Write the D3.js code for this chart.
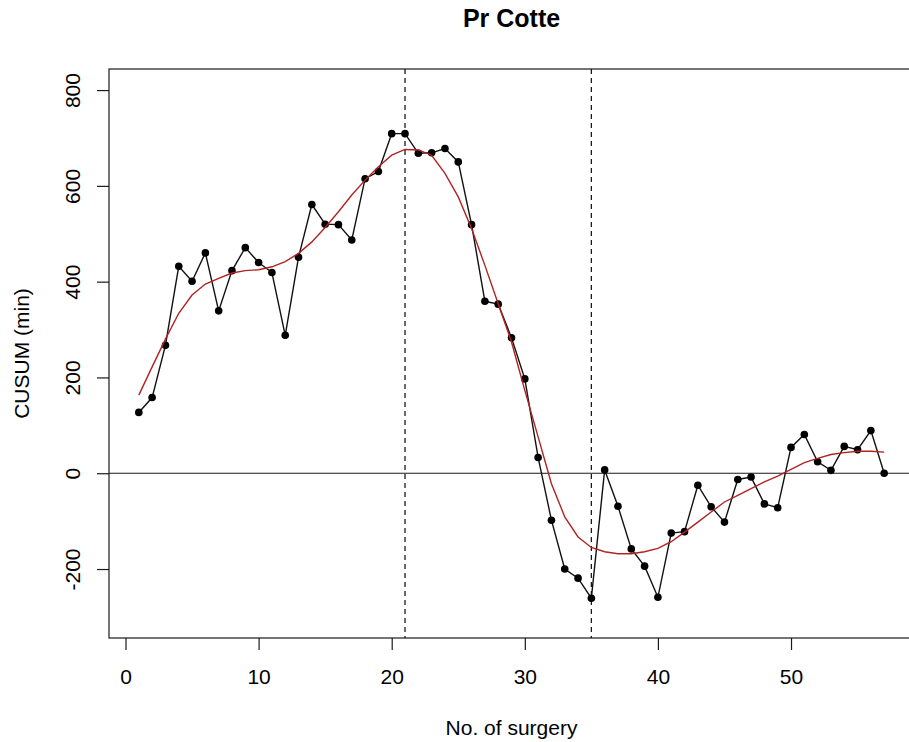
<!DOCTYPE html>
<html>
<head>
<meta charset="utf-8">
<script src="https://cdn.jsdelivr.net/npm/d3@7"></script>
<style>
  html, body { margin: 0; padding: 0; background: #fff; }
  svg { display: block; font-family: "Liberation Sans", Arial, Helvetica, sans-serif; }
</style>
</head>
<body>
<svg id="chart" width="909" height="742"></svg>
<script>
// ---- data ----
const surgeries = d3.range(1, 58);
const cusum = [127, 158, 267, 432, 401, 460, 339, 423, 471, 440,
               419, 288, 451, 561, 520, 519, 487, 615, 630, 709,
               709, 668, 669, 678, 650, 519, 359, 353, 283, 197,
               33, -98, -200, -219, -261, 7, -69, -158, -194, -259,
               -125, -122, -25, -70, -102, -13, -8, -64, -72, 54,
               81, 24, 6, 56, 49, 89, 0];
const smooth = [163, 222, 280, 334, 372, 395, 407, 418, 423, 425,
                431, 442, 459, 483, 513, 546, 581, 612, 640, 664,
                676, 675, 664, 626, 577, 511, 434, 354, 274, 173,
                76, -22, -91, -133, -155, -164, -168, -168, -164, -157,
                -143, -123, -102, -81, -60, -46, -32, -18, -6, 8,
                22, 31, 39, 43, 46, 46, 44];
const changePoints = [21, 35];
const xTicks = [0, 10, 20, 30, 40, 50];
const yTicks = [-200, 0, 200, 400, 600, 800];
const titleText = "Pr Cotte";
const xLabel = "No. of surgery";
const yLabel = "CUSUM (min)";

(function () {
// ---- layout ----
const pL = 109, pR = 914, pT = 69, pB = 638;
const svg = d3.select("#chart");
const x = d3.scaleLinear().domain([-1.24, 59.24]).range([pL, pR]);
const y = d3.scaleLinear().domain([-344, 844]).range([pB, pT]);
const ink = "#1a1a1a";
const fs = 21;
const fmt = d => String(d);

// box
svg.append("rect")
  .attr("x", pL).attr("y", pT)
  .attr("width", pR - pL).attr("height", pB - pT)
  .attr("fill", "none").attr("stroke", ink).attr("stroke-width", 1.2);

// axes
const xAxis = svg.append("g").attr("transform", `translate(0,${pB})`)
  .call(d3.axisBottom(x).tickValues(xTicks).tickSize(12).tickPadding(10).tickFormat(fmt));
const yAxis = svg.append("g").attr("transform", `translate(${pL},0)`)
  .call(d3.axisLeft(y).tickValues(yTicks).tickSize(12).tickFormat(fmt));
[xAxis, yAxis].forEach(g => {
  g.select(".domain").remove();
  g.selectAll(".tick line").attr("stroke", ink).attr("stroke-width", 1.2);
  g.selectAll("text").attr("fill", "#000").style("font-size", fs + "px")
    .style("font-family", '"Liberation Sans", Arial, sans-serif');
});
xAxis.selectAll(".tick text").attr("dy", null).attr("y", 684 - pB);
yAxis.selectAll(".tick text")
  .attr("x", null).attr("dy", null)
  .attr("text-anchor", "middle")
  .attr("transform", `translate(${80 - pL},0) rotate(-90)`);

// reference lines
svg.append("line")
  .attr("x1", pL).attr("x2", pR).attr("y1", y(0)).attr("y2", y(0))
  .attr("stroke", ink).attr("stroke-width", 1.2);
svg.selectAll("line.cp").data(changePoints).enter().append("line")
  .attr("class", "cp")
  .attr("x1", d => x(d)).attr("x2", d => x(d))
  .attr("y1", pT).attr("y2", pB)
  .attr("stroke", ink).attr("stroke-width", 1.3)
  .attr("stroke-dasharray", "5,4");

// data line
const pts = surgeries.map((s, i) => ({ s, v: cusum[i], f: smooth[i] }));
svg.append("path").datum(pts)
  .attr("fill", "none").attr("stroke", "#111").attr("stroke-width", 1.4)
  .attr("d", d3.line().x(d => x(d.s)).y(d => y(d.v)));
svg.selectAll("circle.pt").data(pts).enter().append("circle")
  .attr("class", "pt")
  .attr("cx", d => x(d.s)).attr("cy", d => y(d.v)).attr("r", 3.8)
  .attr("fill", "#000");

// smooth line
svg.append("path").datum(pts)
  .attr("fill", "none").attr("stroke", "#b22222").attr("stroke-width", 1.4)
  .attr("d", d3.line().x(d => x(d.s)).y(d => y(d.f)));

// title & labels
svg.append("text").attr("x", (pL + pR) / 2).attr("y", 27)
  .attr("text-anchor", "middle").style("font-weight", "bold").style("font-size", "25px")
  .text(titleText);
svg.append("text").attr("x", (pL + pR) / 2).attr("y", 735)
  .attr("text-anchor", "middle").style("font-size", fs + "px")
  .text(xLabel);
svg.append("text")
  .attr("transform", `translate(29,${(pT + pB) / 2}) rotate(-90)`)
  .attr("text-anchor", "middle").style("font-size", fs + "px")
  .text(yLabel);
})();
</script>
</body>
</html>
